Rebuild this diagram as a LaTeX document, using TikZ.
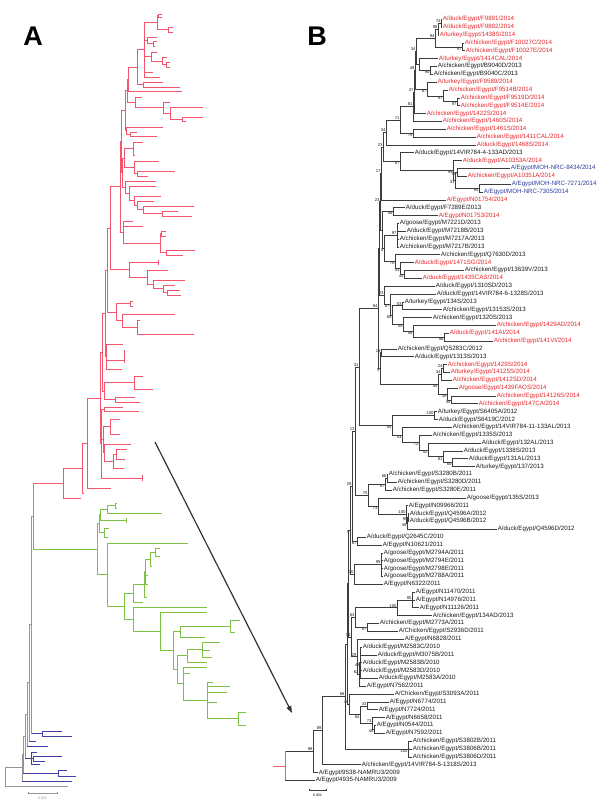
\documentclass[tikz,border=0pt]{standalone}
\usepackage{fontspec}
\setmainfont{Liberation Sans}
\usepackage{tikz}
\usetikzlibrary{arrows.meta,calc}
\definecolor{lblRed}{HTML}{E8262B}
\definecolor{lblBlue}{HTML}{2A3C9B}
\definecolor{lblBlack}{HTML}{1A1A1A}
\definecolor{treeGrey}{HTML}{3C3C3C}
\definecolor{rootRed}{HTML}{F06070}
\definecolor{aRed}{HTML}{F2556C}
\definecolor{aGreen}{HTML}{7DC242}
\definecolor{aBlue}{HTML}{4040A8}
\definecolor{aGrey}{HTML}{959595}
\definecolor{arrowGrey}{HTML}{333333}

\tikzset{
  branch/.style={draw=treeGrey, line width=0.45pt},
  rootline/.style={draw=rootRed, line width=0.6pt},
  leaflabel/.style={anchor=west, inner sep=0.6pt, font=\fontsize{6.2}{7}\selectfont},
  boot/.style={inner sep=0.3pt, font=\fontsize{4.2}{4.7}\selectfont, text=lblBlack},
  panel/.style={font=\fontsize{27}{27}\selectfont\bfseries},
  pointer/.style={draw=arrowGrey, line width=1.2pt, -{Triangle[length=7pt,width=5pt]}},
  scalelbl/.style={font=\fontsize{3.5}{4}\selectfont, inner sep=0.5pt},
  redA/.style={every path/.append style={draw=aRed, line width=0.8pt}},
  greenA/.style={every path/.append style={draw=aGreen, line width=0.8pt}},
  blueA/.style={every path/.append style={draw=aBlue, line width=0.8pt}},
  greyA/.style={every path/.append style={draw=aGrey, line width=1pt}}
}

% leaf: name, row, tip x, colour, text
\newcommand\leaf[5]{%
  \coordinate (#1) at (#3,{19.3+7.845*(#2-1)});
  \node[leaflabel,text=#4] (#1t) at (#1) {#5};}
% extra child of a clade
\newcommand\br[2]{\draw[branch] (#2 -| #1) -- (#2);}
% clade: [label anchor] name, x, first child, last child, bootstrap
\newcommand\clade[6][south east]{%
  \coordinate (tmp) at ($(#4)!.5!(#5)$);
  \coordinate (#2) at (#3,0 |- tmp);
  \draw[branch] (#4 -| #2) -- (#5 -| #2);
  \draw[branch] (#4 -| #2) -- (#4);
  \draw[branch] (#5 -| #2) -- (#5);
  \if\relax\detokenize{#6}\relax\else
    \node[boot,anchor=#1] (#2b) at (#2) {#6};\fi}

\begin{document}
\begin{tikzpicture}[x=1pt,y=-1pt]
\useasboundingbox (0,0) rectangle (600,809);

\node[panel] (panelA) at (33,36) {A};
\node[panel] (panelB) at (317,36) {B};

% ---------- tree A ----------
\begin{scope}[redA]
\draw (162,14) -| (158,17) -- (162,17);
\draw (173,27) -| (168,32) -- (173,32);
\draw (158,15.5) -| (157,29.5) -- (168,29.5);
\draw (157,41) -| (153,46) -- (155,46);
\draw (157,37) -| (147,43.5) -- (153,43.5);
\draw (170,62) -| (166,67) -- (170,67);
\draw (167,57) -| (162,64.5) -- (166,64.5);
\draw (157,52) -| (151,61) -- (162,61);
\draw (157,22.5) -| (144,77) -- (160,77);
\draw (144,40) -- (147,40) (144,56.5) -- (151,56.5) (144,72) -- (153,72);
\draw (163,82) -| (143,87) -- (180,87);
\draw (144,49.7) -| (137,84.5) -- (143,84.5);
\draw (137,67) -| (128,91) -- (182,91);
\draw (203,117) -| (182,121) -- (186,121);
\draw (203,107) -| (170,119) -- (182,119);
\draw (170,102) -| (163,113) -- (170,113);
\draw (142,97) -| (135,107.5) -- (163,107.5);
\draw (128,79) -| (127,102) -- (135,102);
\draw (137,132) -| (130,136) -- (157,136);
\draw (163,127) -| (126,134) -- (130,134);
\draw (127,90.5) -| (125,130.5) -- (126,130.5);
\draw (143,142) -| (133,155) -- (135,155);
\draw (175,171) -| (137,176) -- (148,176);
\draw (159,161) -| (134,173.5) -- (137,173.5);
\draw (133,148.5) -| (124,167.2) -- (134,167.2);
\draw (178,211) -| (162,216) -- (192,216);
\draw (194,206) -| (143,213.5) -- (162,213.5);
\draw (154,201) -| (137,209.8) -- (143,209.8);
\draw (161,196) -| (134,205.4) -- (137,205.4);
\draw (156,186) -| (129,200.7) -- (134,200.7);
\draw (156,181) -| (125,193.4) -- (129,193.4);
\draw (124,157.9) -| (122,187.2) -- (125,187.2);
\draw (125,110.5) -| (121,172.6) -- (122,172.6);
\draw (166,231) -| (161,236) -- (166,236);
\draw (195,250) -| (166,255) -- (183,255);
\draw (161,233.5) -| (160,252.5) -- (166,252.5);
\draw (133,221) -| (123,243) -- (160,243);
\draw (123,226) -- (143,226);
\draw (121,141.6) -| (120,232) -- (123,232);
\draw (180,290) -| (167,295) -- (181,295);
\draw (175,285) -| (163,292.5) -- (167,292.5);
\draw (185,280) -| (153,288.8) -- (163,288.8);
\draw (168,270) -| (147,284.4) -- (153,284.4);
\draw (158,262) -| (129,277.2) -- (147,277.2);
\draw (158,259.5) -- (158,264.5);
\draw (120,186.8) -| (110,269.6) -- (129,269.6);
\draw (133,301) -| (130,306) -- (133,306);
\draw (140,320) -| (137,334) -- (194,334);
\draw (175,314) -| (122,327) -- (137,327);
\draw (130,303.5) -| (116,320.5) -- (122,320.5);
\draw (123,344) -| (106,369) -- (122,369);
\draw (106,360) -- (124,360) (124,350) -- (124,363);
\draw (143,376) -| (134,389) -- (153,389);
\draw (135,397) -| (115,402) -- (140,402);
\draw (110,228.2) -| (107,312) -- (116,312);
\draw (107,270.1) -| (105,356.5) -- (106,356.5);
\draw (134,382.5) -| (104,399.5) -- (115,399.5);
\draw (105,313.3) -| (102,391) -- (104,391);
\draw (123,407) -| (104,411) -- (139,411);
\draw (120,419) -| (110,434) -- (120,434);
\draw (127,449) -| (116,459) -- (125,459);
\draw (116,454) -| (113,468) -- (124,468);
\draw (131,444) -| (104,461) -- (113,461);
\draw (110,426.5) -| (103,452.5) -- (104,452.5);
\draw (104,409) -| (101,478) -- (142,478);
\draw (101,439.5) -- (103,439.5) (142,475) -- (142,481);
\draw (102,352.2) -| (100,443.5) -- (101,443.5);
\draw (100,397.9) -| (87,488) -- (111,488);
\draw (87,443) -| (82,493) -- (84,493);
\draw (82,468) -| (63,498) -- (81,498);
\draw (33,483) -- (63,483);
\end{scope}

\begin{scope}[greenA]
\draw (117,503) -| (115,508) -- (117,508);
\draw (115,505.5) -| (107,513) -- (162,513);
\draw (127,518) -| (126,522) -- (127,522);
\draw (107,509.2) -| (100,520) -- (126,520);
\draw (109,528) -| (104,537) -- (108,537);
\draw (100,514.6) -| (99,532.5) -- (104,532.5);
\draw (160,548) -| (155,556) -- (160,556);
\draw (155,552) -| (150,566) -- (152,566);
\draw (150,559) -| (145,584) -- (148,584);
\draw (145,575) -- (148,575);
\draw (145,571.5) -| (144,597) -- (147,597);
\draw (144,584.2) -| (133,602) -- (143,602);
\draw (240,620) -| (230,632) -- (235,632);
\draw (230,626) -| (180,637) -- (205,637);
\draw (220,642) -| (202,657) -- (212,657);
\draw (202,650) -- (210,650);
\draw (202,649.5) -| (187,662) -- (207,662);
\draw (246,712) -| (238,725) -- (246,725);
\draw (213,682) -| (207,718.5) -- (238,718.5);
\draw (207,686) -- (230,686) (207,692) -- (227,692) (207,702) -- (217,702);
\draw (207,667) -| (183,700.2) -- (207,700.2);
\draw (183,673) -- (190,673);
\draw (187,655.7) -| (177,683.6) -- (183,683.6);
\draw (180,631.5) -| (173,669.6) -- (177,669.6);
\draw (207,612) -| (160,650.5) -- (173,650.5);
\draw (207,607) -| (133,631.2) -- (160,631.2);
\draw (133,593.1) -| (124,619.1) -- (133,619.1);
\draw (188,543) -| (107,606.1) -- (124,606.1);
\draw (99,523.5) -| (97,574.5) -- (107,574.5);
\draw (33,549) -- (97,549);
\end{scope}

\begin{scope}[blueA]
\draw (62,731) -| (42,736) -- (72,736);
\draw (62,756) -| (33,761) -- (45,761);
\draw (37,752) -| (31,764) -- (40,764);
\draw (31,758.5) -- (33,758.5);
\draw (67,770) -| (58,776) -- (76,776);
\draw (31,733.5) -- (42,733.5) (29,741) -- (36,741) (27,746) -- (48,746);
\draw (25,758) -- (31,758) (23,773) -- (58,773) (22,781) -- (72,781);
\end{scope}

\begin{scope}[greyA]
\draw (33,483) -- (33,549);
\draw (33,516) -| (31,733.5);
\draw (31,624.8) -| (29,741);
\draw (29,682.9) -| (27,746);
\draw (27,714.5) -| (25,758);
\draw (25,736.2) -| (23,773);
\draw (23,754.6) -| (22,781);
\draw (22,767.8) -| (5,786) -- (68,786);
\draw[line width=0.5pt] (28,791.5) -- (28,793) -- (57,793) -- (57,791.5);
\end{scope}
\node[scalelbl, text=aGrey] (scaleA) at (42.5,798) {0.002};

% ---------- tree B ----------
\leaf{lF9891}{1}{442}{lblRed}{A/duck/Egypt/F9891/2014}
\leaf{lF9892}{2}{442}{lblRed}{A/duck/Egypt/F9892/2014}
\leaf{l1438S}{3}{439}{lblRed}{A/turkey/Egypt/1438S/2014}
\leaf{lF10027C}{4}{464}{lblRed}{A/chicken/Egypt/F10027C/2014}
\leaf{lF10027E}{5}{465}{lblRed}{A/chicken/Egypt/F10027E/2014}
\leaf{l1414CAL}{6}{438}{lblRed}{A/turkey/Egypt/1414CAL/2014}
\leaf{lB9040D}{7}{437}{lblBlack}{A/chicken/Egypt/B9040D/2013}
\leaf{lB9040C}{8}{433}{lblBlack}{A/chicken/Egypt/B9040C/2013}
\leaf{lF9589}{9}{437}{lblRed}{A/turkey/Egypt/F9589/2014}
\leaf{lF9514B}{10}{448}{lblRed}{A/chicken/Egypt/F9514B/2014}
\leaf{lF9519D}{11}{460}{lblRed}{A/chicken/Egypt/F9519D/2014}
\leaf{lF9514E}{12}{460}{lblRed}{A/chicken/Egypt/F9514E/2014}
\leaf{l1422S}{13}{426}{lblRed}{A/chicken/Egypt/1422S/2014}
\leaf{l1460S}{14}{442}{lblRed}{A/chicken/Egypt/1460S/2014}
\leaf{l1461S}{15}{446}{lblRed}{A/chicken/Egypt/1461S/2014}
\leaf{l1411CAL}{16}{476}{lblRed}{A/chicken/Egypt/1411CAL/2014}
\leaf{l1468S}{17}{476}{lblRed}{A/duck/Egypt/1468S/2014}
\leaf{l133AD}{18}{414}{lblBlack}{A/duck/Egypt/14VIR784-4-133AD/2013}
\leaf{lA10353A}{19}{462}{lblRed}{A/duck/Egypt/A10353A/2014}
\leaf{lNRC8434}{20}{510}{lblBlue}{A/Egypt/MOH-NRC-8434/2014}
\leaf{lA10351A}{21}{467}{lblRed}{A/chicken/Egypt/A10351A/2014}
\leaf{lNRC7271}{22}{511}{lblBlue}{A/Egypt/MOH-NRC-7271/2014}
\leaf{lNRC7305}{23}{483}{lblBlue}{A/Egypt/MOH-NRC-7305/2014}
\leaf{lN01754}{24}{446}{lblRed}{A/Egypt/N01754/2014}
\leaf{lF7289E}{25}{405}{lblBlack}{A/duck/Egypt/F7289E/2013}
\leaf{lN01753}{26}{438}{lblRed}{A/Egypt/N01753/2014}
\leaf{lM7221D}{27}{399}{lblBlack}{A/goose/Egypt/M7221D/2013}
\leaf{lM7218B}{28}{406}{lblBlack}{A/duck/Egypt/M7218B/2013}
\leaf{lM7217A}{29}{399}{lblBlack}{A/chicken/Egypt/M7217A/2013}
\leaf{lM7217B}{30}{399}{lblBlack}{A/chicken/Egypt/M7217B/2013}
\leaf{lQ7630D}{31}{440}{lblBlack}{A/chicken/Egypt/Q7630D/2013}
\leaf{l1471SG}{32}{414}{lblRed}{A/duck/Egypt/1471SG/2014}
\leaf{l13639V}{33}{464}{lblBlack}{A/chicken/Egypt/13639V/2013}
\leaf{l1435CAS}{34}{422}{lblRed}{A/duck/Egypt/1435CAS/2014}
\leaf{l1310SD}{35}{435}{lblBlack}{A/duck/Egypt/1310SD/2013}
\leaf{l1328S}{36}{436}{lblBlack}{A/duck/Egypt/14VIR784-6-1328S/2013}
\leaf{l134S}{37}{404}{lblBlack}{A/turkey/Egypt/134S/2013}
\leaf{l13153S}{38}{442}{lblBlack}{A/chicken/Egypt/13153S/2013}
\leaf{l1320S}{39}{432}{lblBlack}{A/chicken/Egypt/1320S/2013}
\leaf{l1429AD}{40}{496}{lblRed}{A/chicken/Egypt/1429AD/2014}
\leaf{l141AI}{41}{449}{lblRed}{A/duck/Egypt/141AI/2014}
\leaf{l141VI}{42}{493}{lblRed}{A/chicken/Egypt/141VI/2014}
\leaf{lQ5283C}{43}{397}{lblBlack}{A/chicken/Egypt/Q5283C/2012}
\leaf{l1313S}{44}{414}{lblBlack}{A/duck/Egypt/1313S/2013}
\leaf{l1429S}{45}{447}{lblRed}{A/chicken/Egypt/1429S/2014}
\leaf{l14125S}{46}{450}{lblRed}{A/turkey/Egypt/14125S/2014}
\leaf{l1412SD}{47}{452}{lblRed}{A/chicken/Egypt/1412SD/2014}
\leaf{l1439FAOS}{48}{458}{lblRed}{A/goose/Egypt/1439FAOS/2014}
\leaf{l14126S}{49}{496}{lblRed}{A/chicken/Egypt/14126S/2014}
\leaf{l147CA}{50}{478}{lblRed}{A/chicken/Egypt/147CA/2014}
\leaf{lS6405A}{51}{437}{lblBlack}{A/turkey/Egypt/S6405A/2012}
\leaf{lS6419C}{52}{438}{lblBlack}{A/duck/Egypt/S6419C/2012}
\leaf{l133AL}{53}{452}{lblBlack}{A/chicken/Egypt/14VIR784-11-133AL/2013}
\leaf{l1335S}{54}{432}{lblBlack}{A/chicken/Egypt/1335S/2013}
\leaf{l132AL}{55}{481}{lblBlack}{A/duck/Egypt/132AL/2013}
\leaf{l1338S}{56}{463}{lblBlack}{A/duck/Egypt/1338S/2013}
\leaf{l131AL}{57}{468}{lblBlack}{A/duck/Egypt/131AL/2013}
\leaf{l137}{58}{475}{lblBlack}{A/turkey/Egypt/137/2013}
\leaf{lS3280B}{59}{388}{lblBlack}{A/chicken/Egypt/S3280B/2011}
\leaf{lS3280D}{60}{397}{lblBlack}{A/chicken/Egypt/S3280D/2011}
\leaf{lS3280E}{61}{392}{lblBlack}{A/chicken/Egypt/S3280E/2011}
\leaf{l135S}{62}{466}{lblBlack}{A/goose/Egypt/135S/2013}
\leaf{lN09966}{63}{408}{lblBlack}{A/Egypt/N09966/2011}
\leaf{lQ4596A}{64}{409}{lblBlack}{A/duck/Egypt/Q4596A/2012}
\leaf{lQ4596B}{65}{409}{lblBlack}{A/duck/Egypt/Q4596B/2012}
\leaf{lQ4596D}{66}{497}{lblBlack}{A/duck/Egypt/Q4596D/2012}
\leaf{lQ2645C}{67}{366}{lblBlack}{A/duck/Egypt/Q2645C/2010}
\leaf{lN10621}{68}{382}{lblBlack}{A/Egypt/N10621/2011}
\leaf{lM2794A}{69}{383}{lblBlack}{A/goose/Egypt/M2794A/2011}
\leaf{lM2794E}{70}{383}{lblBlack}{A/goose/Egypt/M2794E/2011}
\leaf{lM2798E}{71}{383}{lblBlack}{A/goose/Egypt/M2798E/2011}
\leaf{lM2788A}{72}{383}{lblBlack}{A/goose/Egypt/M2788A/2011}
\leaf{lN6322}{73}{383}{lblBlack}{A/Egypt/N6322/2011}
\leaf{lN11470}{74}{415}{lblBlack}{A/Egypt/N11470/2011}
\leaf{lN14976}{75}{415}{lblBlack}{A/Egypt/N14976/2011}
\leaf{lN11126}{76}{419}{lblBlack}{A/Egypt/N11126/2011}
\leaf{l134AD}{77}{432}{lblBlack}{A/chicken/Egypt/134AD/2013}
\leaf{lM2773A}{78}{379}{lblBlack}{A/chicken/Egypt/M2773A/2011}
\leaf{lS2936D}{79}{398}{lblBlack}{A/Chicken/Egypt/S2936D/2011}
\leaf{lN6828}{80}{404}{lblBlack}{A/Egypt/N6828/2011}
\leaf{lM2583C}{81}{362}{lblBlack}{A/duck/Egypt/M2583C/2010}
\leaf{lM3075B}{82}{377}{lblBlack}{A/duck/Egypt/M3075B/2011}
\leaf{lM2583B}{83}{362}{lblBlack}{A/duck/Egypt/M2583B/2010}
\leaf{lM2583D}{84}{362}{lblBlack}{A/duck/Egypt/M2583D/2010}
\leaf{lM2583A}{85}{378}{lblBlack}{A/duck/Egypt/M2583A/2010}
\leaf{lN7562}{86}{366}{lblBlack}{A/Egypt/N7562/2011}
\leaf{lS3093A}{87}{394}{lblBlack}{A/Chicken/Egypt/S3093A/2011}
\leaf{lN6774}{88}{389}{lblBlack}{A/Egypt/N6774/2011}
\leaf{lN7724}{89}{378}{lblBlack}{A/Egypt/N7724/2011}
\leaf{lN6658}{90}{385}{lblBlack}{A/Egypt/N6658/2011}
\leaf{lN0544}{91}{376}{lblBlack}{A/Egypt/N0544/2011}
\leaf{lN7592}{92}{385}{lblBlack}{A/Egypt/N7592/2011}
\leaf{lS3802B}{93}{412}{lblBlack}{A/chicken/Egypt/S3802B/2011}
\leaf{lS3806B}{94}{412}{lblBlack}{A/chicken/Egypt/S3806B/2011}
\leaf{lS3806D}{95}{412}{lblBlack}{A/chicken/Egypt/S3806D/2011}
\leaf{l1318S}{96}{361}{lblBlack}{A/chicken/Egypt/14VIR784-5-1318S/2013}
\leaf{l9538}{97}{318}{lblBlack}{A/Egypt/9538-NAMRU3/2009}
\leaf{l4935}{98}{315}{lblBlack}{A/Egypt/4935-NAMRU3/2009}

% 2014 clade
\clade{a1}{441}{lF9891}{lF9892}{74}
\clade{a2}{438}{a1}{l1438S}{98}
\clade[north east]{a4}{462}{lF10027C}{lF10027E}{97}
\clade{a3}{435}{a2}{a4}{94}
\clade[north east]{a7}{430}{lB9040D}{lB9040C}{94}
\clade{a6}{419}{l1414CAL}{a7}{}
\clade{c1}{416}{a3}{a6}{34}
\clade[north east]{a10}{457}{lF9519D}{lF9514E}{97}
\clade[north east]{a9}{443}{lF9514B}{a10}{97}
\clade[north east]{a8}{427}{lF9589}{a9}{67}
\clade{N48}{415}{c1}{a8}{48}
\clade{N37}{414}{N48}{l1422S}{37}
\clade{N81}{413}{N37}{l1460S}{81}
\clade[north east]{N79}{413}{l1461S}{l1411CAL}{79}
\clade{N71}{400}{N81}{N79}{71}
\clade{N34b}{386}{N71}{l1468S}{34}
\clade[north east]{P1}{457}{lNRC8434}{lA10351A}{50}
\clade[north east]{P2}{479}{lNRC7271}{lNRC7305}{94}
\clade[north east]{P3}{455}{P1}{P2}{31}
\clade[north east]{P4}{453}{lA10353A}{P3}{99}
\clade[north east]{N87}{400}{l133AD}{P4}{87}
\clade{N23a}{383}{N34b}{N87}{23}
\clade{N17}{381}{N23a}{lN01754}{17}
\clade[north east]{Q1}{393}{lF7289E}{lN01753}{58}
\clade{M72}{397}{lM7221D}{lM7217B}{97}
\br{M72}{lM7218B} \br{M72}{lM7217A}
\clade[north east]{R3}{404}{l13639V}{l1435CAS}{44}
\clade[north east]{R2}{400}{l1471SG}{R3}{43}
\clade[north east]{R1}{395}{lQ7630D}{R2}{70}
\clade[north east]{S8}{384}{M72}{R1}{8}
\clade{S9}{382}{Q1}{S8}{9}
\clade{N23b}{380}{N17}{S9}{23}
% 2013 groups
\clade{T1}{402}{l134S}{l13153S}{53}
\clade[north east]{U1}{444}{l141AI}{l141VI}{96}
\clade[north east]{U2}{413}{l1429AD}{U1}{58}
\clade[north east]{U3}{403}{l1320S}{U2}{45}
\clade[north east]{U4}{392}{T1}{U3}{65}
\clade[north east]{T2}{390}{l1328S}{U4}{67}
\clade{T3}{384}{l1310SD}{T2}{23}
\clade{Xtop}{379}{N23b}{T3}{}
\clade{X19}{381}{lQ5283C}{l1313S}{19}
\clade{W1}{443}{l1429S}{l14125S}{24}
\clade{W2}{441}{W1}{l1412SD}{34}
\clade[north east]{W3}{451}{l14126S}{l147CA}{45}
\clade[north east]{W4}{447}{l1439FAOS}{W3}{39}
\clade[north east]{W5}{438}{W2}{W4}{59}
\clade[north east]{X9}{380}{X19}{W5}{9}
\clade{X84}{378}{Xtop}{X9}{84}
\clade{ZS}{434}{lS6405A}{lS6419C}{100}
\clade[north east]{Z6}{452}{l131AL}{l137}{60}
\clade[north east]{Z5}{443}{l1338S}{Z6}{81}
\clade[north east]{Z4}{428}{l132AL}{Z5}{52}
\clade[north east]{Z3}{419}{l1335S}{Z4}{72}
\clade[north east]{Z2}{402}{l133AL}{Z3}{53}
\clade[north east]{Z1}{392}{ZS}{Z2}{94}
\clade{Y31}{359}{X84}{Z1}{31}
% 2010-2012 groups
\clade{SA}{387}{lS3280B}{lS3280D}{66}
\clade[north east]{SB}{385}{SA}{lS3280E}{87}
\clade[north east]{Q1a}{408}{lQ4596A}{lQ4596B}{99}
\clade[north east]{Q1b}{407}{Q1a}{lQ4596D}{48}
\clade{Q1c}{406}{lN09966}{Q1b}{100}
\clade[north east]{S73}{378}{l135S}{Q1c}{73}
\clade{S75}{368}{SB}{S73}{75}
\clade{Y13}{355}{Y31}{S75}{13}
\clade[north east]{Qn}{357}{lQ2645C}{lN10621}{67}
\clade{K1}{352}{Y13}{Qn}{29}
\clade{Mg}{381}{lM2794A}{lM2788A}{99}
\br{Mg}{lM2794E} \br{Mg}{lM2798E}
\clade{M20}{354}{Mg}{lN6322}{20}
\clade[north east]{K2}{350}{K1}{M20}{9}
\clade{H95}{412}{lN11470}{lN11126}{95}
\br{H95}{lN14976}
\clade{H100}{397}{H95}{l134AD}{100}
\clade[north east]{Hm}{367}{lM2773A}{lS2936D}{87}
\clade{K63}{355}{H100}{Hm}{63}
\clade[north east]{D1}{360}{lM2583C}{lM2583A}{48}
\br{D1}{lM3075B} \br{D1}{lM2583B} \br{D1}{lM2583D}
\clade{D1p}{359}{D1}{lN7562}{62}
\clade{D0}{357}{lN6828}{D1p}{29}
\clade{Kb}{351}{K63}{D0}{14}
\clade{K3}{348}{K2}{Kb}{}
\clade{E1}{367}{lN6774}{lN7724}{33}
\clade[north east]{E2a}{374}{lN0544}{lN7592}{48}
\clade{E2}{372}{lN6658}{E2a}{73}
\clade[north east]{E3}{360}{E1}{E2}{84}
\clade{E4}{349}{lS3093A}{E3}{48}
\clade{Kc}{347}{K3}{E4}{}
\clade[north east]{F100}{408}{lS3802B}{lS3806D}{100}
\br{F100}{lS3806B}
\clade{N68}{345}{Kc}{F100}{68}
\clade{N89}{322}{N68}{l1318S}{89}
\clade{N98}{313}{N89}{l9538}{98}
% root
\coordinate (tmp) at ($(N98)!.5!(l4935)$);
\coordinate (root) at (285,0 |- tmp);
\coordinate (rootIn) at (273,0 |- tmp);
\draw[branch] (N98 -| root) -- (N98);
\draw[branch] (l4935 -| root) -- (l4935);
\draw[rootline] (N98 -| root) -- (l4935 -| root);
\draw[rootline] (rootIn) -- (root);

% scale bar
\coordinate (sbL) at (309,790);
\coordinate (sbR) at (326,790);
\draw[branch] ([yshift=1.2pt]sbL) -- (sbL) -- (sbR) -- ([yshift=1.2pt]sbR);
\node[scalelbl] (scaleB) at ($(sbL)!.5!(sbR)+(0,5)$) {0.002};

% zoom arrow
\coordinate (arrFrom) at (155,442);
\coordinate (arrTo) at (292,713);
\draw[pointer] (arrFrom) -- (arrTo);
\end{tikzpicture}
\end{document}
